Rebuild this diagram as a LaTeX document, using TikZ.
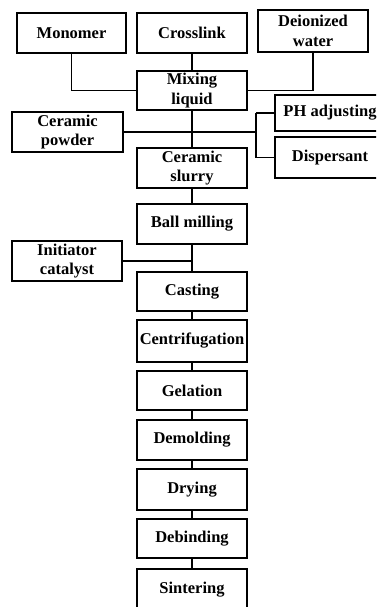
\documentclass[tikz,border=0pt]{standalone}
\usepackage{fontspec}
\setmainfont{Liberation Serif}
\begin{document}
\begin{tikzpicture}[x=1pt,y=-1pt,
  box/.style={draw, line width=1.5pt, rectangle, inner sep=0pt, align=center,
    minimum width=110pt, minimum height=40pt,
    font=\fontsize{16.5}{19.5}\selectfont\bfseries},
  link/.style={line width=1.5pt}]
\useasboundingbox (0,0) rectangle (376,607);
\clip (0,0) rectangle (376,607);
\node[box, minimum width=109pt] (mono) at (71.5,33) {Monomer};
\node[box] (cross) at (192,33) {Crosslink};
\node[box, minimum height=42pt] (deion) at (313,31) {Deionized\\water};
\node[box, minimum height=39pt] (mix) at (192,90.5) {Mixing\\liquid};
\node[box, minimum width=111pt] (powder) at (67.5,132) {Ceramic\\powder};
\node[box, minimum height=36pt] (ph) at (330,113) {PH adjusting};
\node[box, minimum height=41pt] (disp) at (330,157.5) {Dispersant};
\node[box] (slurry) at (192,168) {Ceramic\\slurry};
\node[box] (ball) at (192,224) {Ball milling};
\node[box] (init) at (67,261) {Initiator\\catalyst};
\node[box, minimum height=39pt] (cast) at (192,291.5) {Casting};
\node[box, minimum height=42pt] (centri) at (192,341) {Centrifugation};
\node[box, minimum height=39pt] (gel) at (192,390.5) {Gelation};
\node[box] (demold) at (192,440) {Demolding};
\node[box, minimum height=41pt] (dry) at (192,489.5) {Drying};
\node[box, minimum height=39pt] (debind) at (192,538.5) {Debinding};
\node[box, minimum height=41pt] (sinter) at (192,589.5) {Sintering};
\coordinate (brk) at (256,130);
\coordinate (brktop) at (256,113);
\coordinate (brkbot) at (256,157.5);
\draw[link] (mono.south) |- (mix.west);
\draw[link] (deion.south) |- (mix.east);
\draw[link] (cross.south) -- (mix.north);
\draw[link] (mix.south) -- (slurry.north);
\draw[link] (powder.east) -- (powder.east -| brk);
\draw[link] (brktop) -- (brkbot);
\draw[link] (brktop) -- (ph.west);
\draw[link] (brkbot) -- (disp.west);
\draw[link] (slurry.south) -- (ball.north);
\draw[link] (ball.south) -- (cast.north);
\draw[link] (init.east) -- (init.east -| ball.south);
\draw[link] (cast.south) -- (centri.north);
\draw[link] (centri.south) -- (gel.north);
\draw[link] (gel.south) -- (demold.north);
\draw[link] (demold.south) -- (dry.north);
\draw[link] (dry.south) -- (debind.north);
\draw[link] (debind.south) -- (sinter.north);
\end{tikzpicture}
\end{document}
